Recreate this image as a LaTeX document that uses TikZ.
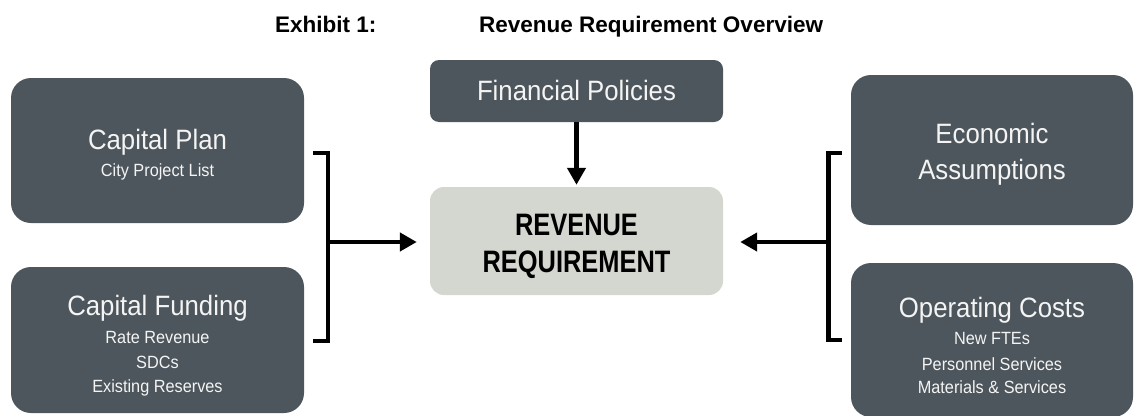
\documentclass[tikz,border=0pt]{standalone}
\usepackage{fontspec}
\setmainfont{Liberation Sans}
\newfontfamily\boxfont[FakeStretch=0.92]{Liberation Sans}
\newfontfamily\narrowfont[FakeStretch=0.82]{Liberation Sans}
\usetikzlibrary{arrows.meta,positioning}
\definecolor{boxdark}{RGB}{77,86,92}
\definecolor{boxlight}{RGB}{212,214,208}
\definecolor{boxtext}{RGB}{244,244,244}
\tikzstyle{darkbox}=[rectangle,rounded corners=20pt,fill=boxdark,minimum width=293pt,inner sep=0pt]
\tikzstyle{headtxt}=[text=boxtext,anchor=base,inner sep=0pt,font=\boxfont\fontsize{28}{32}\selectfont]
\tikzstyle{subtxt}=[text=boxtext,anchor=base,inner sep=0pt,font=\boxfont\fontsize{17.7}{21}\selectfont]
\tikzstyle{brace}=[line width=4.5pt]
\tikzstyle{arrow}=[-{Triangle[length=17pt,width=18pt]},line width=4.5pt]

\begin{document}
\begin{tikzpicture}[x=1pt,y=-1pt]
  \useasboundingbox (0,0) rectangle (1135,415);
  \clip (0,0) rectangle (1135,415);

  \node[anchor=base west,inner sep=0pt,font=\bfseries\fontsize{22.5}{26}\selectfont] (exh) at (275,32) {Exhibit 1:};
  \node[anchor=base west,inner sep=0pt,font=\bfseries\fontsize{22.5}{26}\selectfont] (ttl) at (479,32) {Revenue Requirement Overview};

  \node[darkbox,minimum height=145pt] (cplan) at (157.5,150.5) {};
  \node[darkbox,minimum height=146pt] (cfund) at (157.5,340) {};
  \node[darkbox,minimum height=62pt,rounded corners=9pt] (fpol) at (576.5,91) {};
  \node[rectangle,rounded corners=14pt,fill=boxlight,minimum width=293pt,minimum height=108pt,inner sep=0pt] (rev) at (576.5,241) {};
  \node[darkbox,minimum width=282pt,minimum height=150pt] (econ) at (992,150) {};
  \node[darkbox,minimum width=282pt,minimum height=154pt] (opc) at (992,340) {};

  \node[headtxt] (cplan-t) at (157.5,149) {Capital Plan};
  \node[subtxt] (cplan-s) at (157.5,176) {City Project List};
  \node[headtxt] (cfund-t) at (157.5,315) {Capital Funding};
  \node[subtxt] (cfund-s1) at (157.5,343) {Rate Revenue};
  \node[subtxt] (cfund-s2) at (157.5,368) {SDCs};
  \node[subtxt] (cfund-s3) at (157.5,392) {Existing Reserves};
  \node[headtxt] (fpol-t) at (576.5,100) {Financial Policies};
  \node[anchor=base,inner sep=0pt,font=\narrowfont\bfseries\fontsize{31}{36}\selectfont] (rev-t1) at (576.5,235) {REVENUE};
  \node[anchor=base,inner sep=0pt,font=\narrowfont\bfseries\fontsize{31}{36}\selectfont] (rev-t2) at (576.5,272) {REQUIREMENT};
  \node[headtxt] (econ-t1) at (992,143) {Economic};
  \node[headtxt] (econ-t2) at (992,179) {Assumptions};
  \node[headtxt] (opc-t) at (992,317) {Operating Costs};
  \node[subtxt] (opc-s1) at (992,344) {New FTEs};
  \node[subtxt] (opc-s2) at (992,370) {Personnel Services};
  \node[subtxt] (opc-s3) at (992,393) {Materials \& Services};

  \coordinate (lbt) at (313,153);
  \coordinate (lbb) at (313,341);
  \coordinate (lbj) at (328,242);
  \coordinate (rbt) at (842,153);
  \coordinate (rbb) at (842,340);
  \coordinate (rbj) at (828.5,242);

  \draw[brace] (lbt) -| (lbj) |- (lbb);
  \draw[brace] (rbt) -| (rbj) |- (rbb);
  \draw[arrow,shorten >=13pt] (lbj) -- (lbj -| rev.west);
  \draw[arrow,shorten >=17pt] (rbj) -- (rbj -| rev.east);
  \draw[arrow,shorten >=2pt] (fpol.south) -- (rev.north);
\end{tikzpicture}
\end{document}
